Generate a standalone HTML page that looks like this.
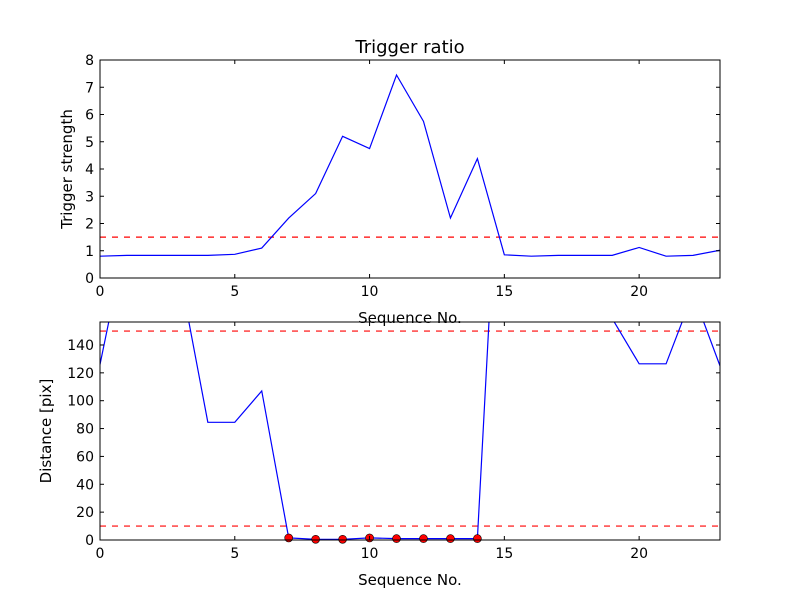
<!DOCTYPE html>
<html><head><meta charset="utf-8"><style>body{margin:0;background:#fff}svg{display:block;font-family:"DejaVu Sans","Liberation Sans",sans-serif}</style></head>
<body>
<svg id="fig" width="800" height="600" viewBox="0 0 800 600" xmlns="http://www.w3.org/2000/svg">
<rect width="800" height="600" fill="#fff"/>
<defs>
<clipPath id="c1"><rect x="100" y="60" width="620" height="218"/></clipPath>
<clipPath id="c2"><rect x="100" y="322" width="620" height="218"/></clipPath>
</defs>
<g id="g"></g>
</svg>
<script>
const seq = [0,1,2,3,4,5,6,7,8,9,10,11,12,13,14,15,16,17,18,19,20,21,22,23];
const strength = [0.8,0.83,0.83,0.83,0.83,0.87,1.1,2.2,3.1,5.2,4.75,7.45,5.75,2.2,4.38,0.85,0.8,0.83,0.83,0.83,1.12,0.8,0.83,1.02];
const distance = [126,220,220,187,84.5,84.5,107,1.5,0.5,0.5,1.5,1,1,1,1,363,300,300,300,159,126.5,126.5,177,125];
const strengthThreshold = [1.5];
const distanceThresholds = [150,10];
const topTicksY = [0,1,2,3,4,5,6,7,8];
const botTicksY = [0,20,40,60,80,100,120,140];
const ticksX = [0,5,10,15,20];

const NS="http://www.w3.org/2000/svg";
const g=document.getElementById('g');
function el(t,a,p){const e=document.createElementNS(NS,t);for(const k in a)e.setAttribute(k,a[k]);(p||g).appendChild(e);return e;}
const L=100,R=720,xmax=23;
const sx=v=>L+(v/xmax)*(R-L);

function axes(top,bot,ymax,ticksY,data,thr,clip,ylabel,ylx,name,markers){
  const sy=v=>bot-(v/ymax)*(bot-top);
  const grp=el('g',{});
  
  
  const cg=el('g',{'clip-path':'url(#'+clip+')'},grp);
  thr.forEach(t=>{const ln=el('line',{x1:L,x2:R,y1:sy(t),y2:sy(t),stroke:'#f00','stroke-width':1.2,'stroke-dasharray':'6,6'},cg);
    
    });
  const pl=el('polyline',{points:data.map((v,i)=>sx(seq[i])+','+sy(v)).join(' '),fill:'none',stroke:'#00f','stroke-width':1.2},cg);
  
  
  if(markers){data.forEach((v,i)=>{if(v<10){const c=el('circle',{cx:sx(seq[i]),cy:sy(v),r:4,fill:'#f00',stroke:'#000','stroke-width':0.6},grp);
    
    }});}
  const fr=el('rect',{x:L,y:top,width:R-L,height:bot-top,fill:'none',stroke:'#000','stroke-width':1},grp);
  
  
  ticksX.forEach(t=>{const x=sx(t);el('line',{x1:x,x2:x,y1:bot,y2:bot-4,stroke:'#000'},grp);el('line',{x1:x,x2:x,y1:top,y2:top+4,stroke:'#000'},grp);
    const tx=el('text',{x:x,y:bot+18,'font-size':14,'text-anchor':'middle'},grp);tx.textContent=t;
    
    });
  ticksY.forEach(t=>{const y=sy(t);el('line',{x1:L,x2:L+4,y1:y,y2:y,stroke:'#000'},grp);el('line',{x1:R,x2:R-4,y1:y,y2:y,stroke:'#000'},grp);
    const tx=el('text',{x:L-6,y:y+5,'font-size':14,'text-anchor':'end'},grp);tx.textContent=t;
    
    });
  const yl=el('text',{x:ylx,y:(top+bot)/2,'font-size':15,'text-anchor':'middle',transform:'rotate(-90 '+ylx+' '+(top+bot)/2+')'},grp);yl.textContent=ylabel;
  
  
  const xl=el('text',{x:(L+R)/2,y:bot+45,'font-size':15,'text-anchor':'middle'},grp);xl.textContent='Sequence No.';
  
  
}
axes(60,278,8,topTicksY,strength,strengthThreshold,'c1','Trigger strength',72,'trigger-ratio-chart',false);
axes(322,540,156.5,botTicksY,distance,distanceThresholds,'c2','Distance [pix]',51,'distance-chart',true);
const ti=el('text',{x:410,y:53,'font-size':18,'text-anchor':'middle'});ti.textContent='Trigger ratio';


</script>
</body></html>
